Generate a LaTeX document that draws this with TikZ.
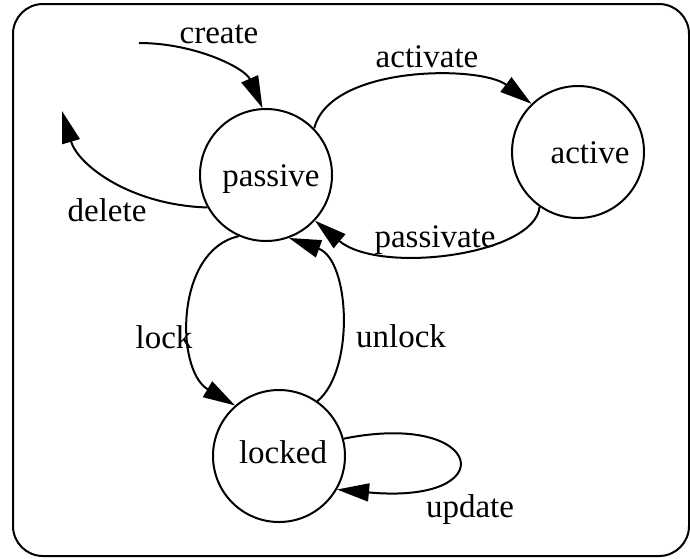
\documentclass[tikz,border=0pt]{standalone}
\usepackage{fontspec}
\setmainfont{Liberation Serif}
\usetikzlibrary{arrows.meta}
\begin{document}
\begin{tikzpicture}[x=1pt,y=-1pt,line width=2pt,
  state/.style={draw,circle,minimum size=132pt,inner sep=0pt},
  lbl/.style={anchor=base,inner sep=0pt,font=\fontsize{33}{38}\selectfont},
  trans/.style={-{Triangle[length=32pt,width=18pt]}}]
\useasboundingbox (0,0) rectangle (690,558);
\draw[rounded corners=30pt] (13,4) rectangle (689,556);
% states
\node[state] (passive) at (266,175) {};
\node[state] (active) at (578,152) {};
\node[state] (locked) at (279,456) {};
\node[lbl] (passiveT) at (271,186) {passive};
\node[lbl] (activeT) at (590,163) {active};
\node[lbl] (lockedT) at (283,463) {locked};
% free ends
\coordinate (createStart) at (139,43);
\coordinate (deleteEnd) at (62,111);
% transitions
\draw[trans] (createStart) .. controls (195,43) and (245,68) .. (passive.93);
\draw[trans] (passive.209) .. controls (130,205) and (78,165) .. (deleteEnd);
\draw[trans] (passive.44) .. controls (330,65) and (480,65) .. (active.134);
\draw[trans] (active.235) .. controls (535,255) and (380,275) .. (passive.317);
\draw[trans] (passive.246) .. controls (175,250) and (175,370) .. (locked.131);
\draw[trans] (locked.55) .. controls (355,370) and (350,260) .. (passive.290);
\draw[trans] (locked.15) .. controls (485,410) and (505,505) .. (locked.-30);
% labels
\node[lbl] (createL) at (219,43) {create};
\node[lbl] (deleteL) at (107,221) {delete};
\node[lbl] (activateL) at (427,67) {activate};
\node[lbl] (passivateL) at (435,247) {passivate};
\node[lbl] (lockL) at (164,348) {lock};
\node[lbl] (unlockL) at (401,347) {unlock};
\node[lbl] (updateL) at (470,517) {update};
\end{tikzpicture}
\end{document}
